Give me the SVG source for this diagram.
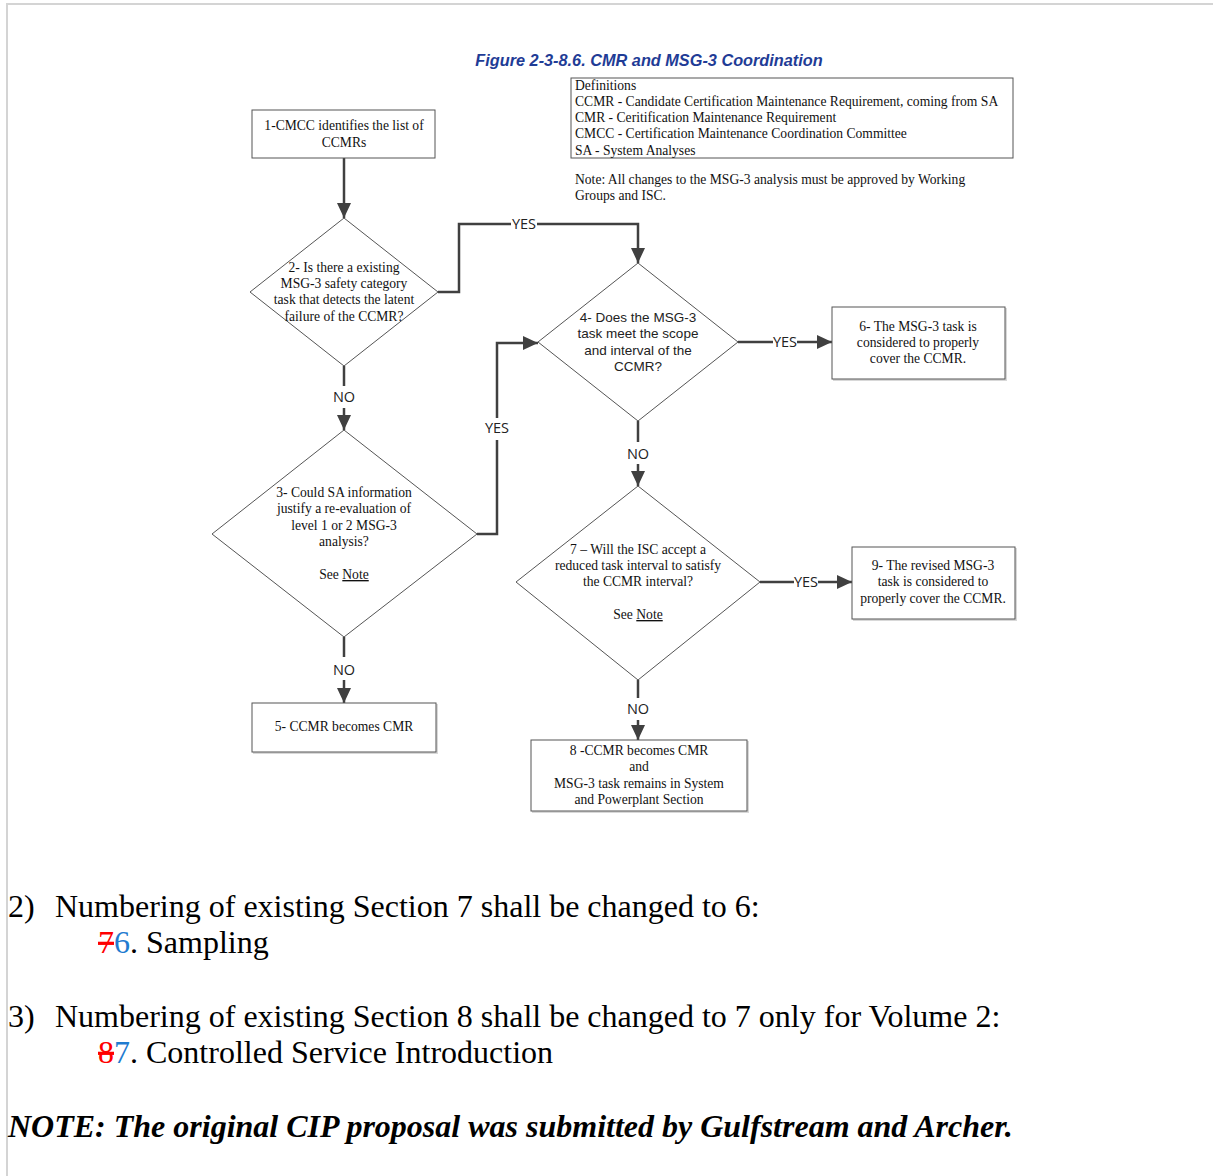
<svg xmlns="http://www.w3.org/2000/svg" width="1213" height="1176" viewBox="0 0 1213 1176">
<defs>
<marker id="arr" markerUnits="userSpaceOnUse" markerWidth="16" markerHeight="16" viewBox="0 0 16 16" refX="15" refY="8" orient="auto">
<path d="M0,1 L15,8 L0,15 Z" fill="#404040"/>
</marker>
<style>
.box{fill:#fff;stroke:#555;stroke-width:1}
.shadow{fill:none;stroke:#d8d8d8;stroke-width:2}
.dia{fill:#fff;stroke:#555;stroke-width:1}
.t{font-family:"Liberation Serif","Times New Roman",serif;font-size:13.6px;fill:#111;text-anchor:middle}
.ts{font-family:"Liberation Sans",Arial,sans-serif;font-size:13.5px;fill:#222;text-anchor:middle}
.lbl{font-family:"Open Sans","Liberation Sans",sans-serif;font-size:14.5px;fill:#222;text-anchor:middle}
.con{fill:none;stroke:#404040;stroke-width:2.5}
.def{font-family:"Liberation Serif","Times New Roman",serif;font-size:13.6px;fill:#111}
.big{font-family:"Liberation Serif","Times New Roman",serif;font-size:32px;fill:#000}
</style>
</defs>
<rect width="1213" height="1176" fill="#fff"/>
<path d="M7,1176 V4 H1213" fill="none" stroke="#d4d4d4" stroke-width="2"/>

<text x="649" y="66" text-anchor="middle" font-family="Liberation Sans, Arial, sans-serif" font-size="16.3" font-weight="bold" font-style="italic" fill="#1F3C96">Figure 2-3-8.6. CMR and MSG-3 Coordination</text>

<g id="definitions">
<rect x="571" y="78" width="442" height="80" class="box"/>
<text class="def" x="575" y="90">Definitions</text>
<text class="def" x="575" y="106">CCMR - Candidate Certification Maintenance Requirement, coming from SA</text>
<text class="def" x="575" y="122">CMR - Ceritification Maintenance Requirement</text>
<text class="def" x="575" y="138">CMCC - Certification Maintenance Coordination Committee</text>
<text class="def" x="575" y="155">SA - System Analyses</text>
</g>
<g id="note">
<text class="def" x="575" y="184">Note: All changes to the MSG-3 analysis must be approved by Working</text>
<text class="def" x="575" y="200">Groups and ISC.</text>
</g>

<g id="connectors">
<path class="con" d="M344,158 V218" marker-end="url(#arr)"/>
<path class="con" d="M438,292 H459 V224 H511"/>
<path class="con" d="M537,224 H638 V263" marker-end="url(#arr)"/>
<text class="lbl" x="524" y="229">YES</text>
<path class="con" d="M344,366 V386"/>
<text class="lbl" x="344" y="402">NO</text>
<path class="con" d="M344,408 V430" marker-end="url(#arr)"/>
<path class="con" d="M477,534 H497 V440"/>
<text class="lbl" x="497" y="433">YES</text>
<path class="con" d="M497,418 V343 H538" marker-end="url(#arr)"/>
<path class="con" d="M344,637 V657"/>
<text class="lbl" x="344" y="675">NO</text>
<path class="con" d="M344,680 V703" marker-end="url(#arr)"/>
<path class="con" d="M738,342 H773"/>
<text class="lbl" x="785" y="347">YES</text>
<path class="con" d="M797,342 H832" marker-end="url(#arr)"/>
<path class="con" d="M638,421 V442"/>
<text class="lbl" x="638" y="459">NO</text>
<path class="con" d="M638,464 V486" marker-end="url(#arr)"/>
<path class="con" d="M760,582 H794"/>
<text class="lbl" x="806" y="587">YES</text>
<path class="con" d="M818,582 H852" marker-end="url(#arr)"/>
<path class="con" d="M638,680 V698"/>
<text class="lbl" x="638" y="714">NO</text>
<path class="con" d="M638,720 V740" marker-end="url(#arr)"/>
</g>

<g id="n1">
<rect x="252" y="110" width="183" height="48" class="box"/>
<text class="t" x="344" y="130">1-CMCC identifies the list of</text>
<text class="t" x="344" y="147">CCMRs</text>
</g>
<g id="n2">
<path class="dia" d="M344,218 L438,292 L344,366 L250,292 Z"/>
<text class="t" x="344" y="272">2- Is there a existing</text>
<text class="t" x="344" y="288">MSG-3 safety category</text>
<text class="t" x="344" y="304">task that detects the latent</text>
<text class="t" x="344" y="321">failure of the CCMR?</text>
</g>
<g id="n3">
<path class="dia" d="M344,430 L477,534 L344,637 L212,534 Z"/>
<text class="t" x="344" y="497">3- Could SA information</text>
<text class="t" x="344" y="513">justify a re-evaluation of</text>
<text class="t" x="344" y="530">level 1 or 2 MSG-3</text>
<text class="t" x="344" y="546">analysis?</text>
<text class="t" x="344" y="579">See <tspan text-decoration="underline">Note</tspan></text>
</g>
<g id="n4">
<path class="dia" d="M638,263 L738,342 L638,421 L538,342 Z"/>
<text class="ts" x="638" y="322">4- Does the MSG-3</text>
<text class="ts" x="638" y="338">task meet the scope</text>
<text class="ts" x="638" y="355">and interval of the</text>
<text class="ts" x="638" y="371">CCMR?</text>
</g>
<g id="n5">
<path class="shadow" d="M437,704 V753 H253"/>
<rect x="252" y="703" width="184" height="49" class="box"/>
<text class="t" x="344" y="731">5- CCMR becomes CMR</text>
</g>
<g id="n6">
<path class="shadow" d="M1006,308 V380 H833"/>
<rect x="832" y="307" width="173" height="72" class="box"/>
<text class="t" x="918" y="331">6- The MSG-3 task is</text>
<text class="t" x="918" y="347">considered to properly</text>
<text class="t" x="918" y="363">cover the CCMR.</text>
</g>
<g id="n7">
<path class="dia" d="M638,486 L760,582 L638,680 L516,582 Z"/>
<text class="t" x="638" y="554">7 – Will the ISC accept a</text>
<text class="t" x="638" y="570">reduced task interval to satisfy</text>
<text class="t" x="638" y="586">the CCMR interval?</text>
<text class="t" x="638" y="619">See <tspan text-decoration="underline">Note</tspan></text>
</g>
<g id="n8">
<path class="shadow" d="M748,741 V812 H532"/>
<rect x="531" y="740" width="216" height="71" class="box"/>
<text class="t" x="639" y="755">8 -CCMR becomes CMR</text>
<text class="t" x="639" y="771">and</text>
<text class="t" x="639" y="788">MSG-3 task remains in System</text>
<text class="t" x="639" y="804">and Powerplant Section</text>
</g>
<g id="n9">
<path class="shadow" d="M1016,548 V620 H853"/>
<rect x="852" y="547" width="163" height="72" class="box"/>
<text class="t" x="933" y="570">9- The revised MSG-3</text>
<text class="t" x="933" y="586">task is considered to</text>
<text class="t" x="933" y="603">properly cover the CCMR.</text>
</g>

<g id="bodytext">
<text class="big" x="8" y="917">2)</text>
<text class="big" x="55" y="917">Numbering of existing Section 7 shall be changed to 6:</text>
<text class="big" x="98" y="953"><tspan fill="#ff0000" text-decoration="line-through">7</tspan><tspan fill="#1F7BD0">6</tspan>. Sampling</text>
<text class="big" x="8" y="1027">3)</text>
<text class="big" x="55" y="1027">Numbering of existing Section 8 shall be changed to 7 only for Volume 2:</text>
<text class="big" x="98" y="1063"><tspan fill="#ff0000" text-decoration="line-through">8</tspan><tspan fill="#1F7BD0">7</tspan>. Controlled Service Introduction</text>
<text class="big" x="8" y="1137" font-weight="bold" font-style="italic">NOTE: The original CIP proposal was submitted by Gulfstream and Archer.</text>
</g>
</svg>
